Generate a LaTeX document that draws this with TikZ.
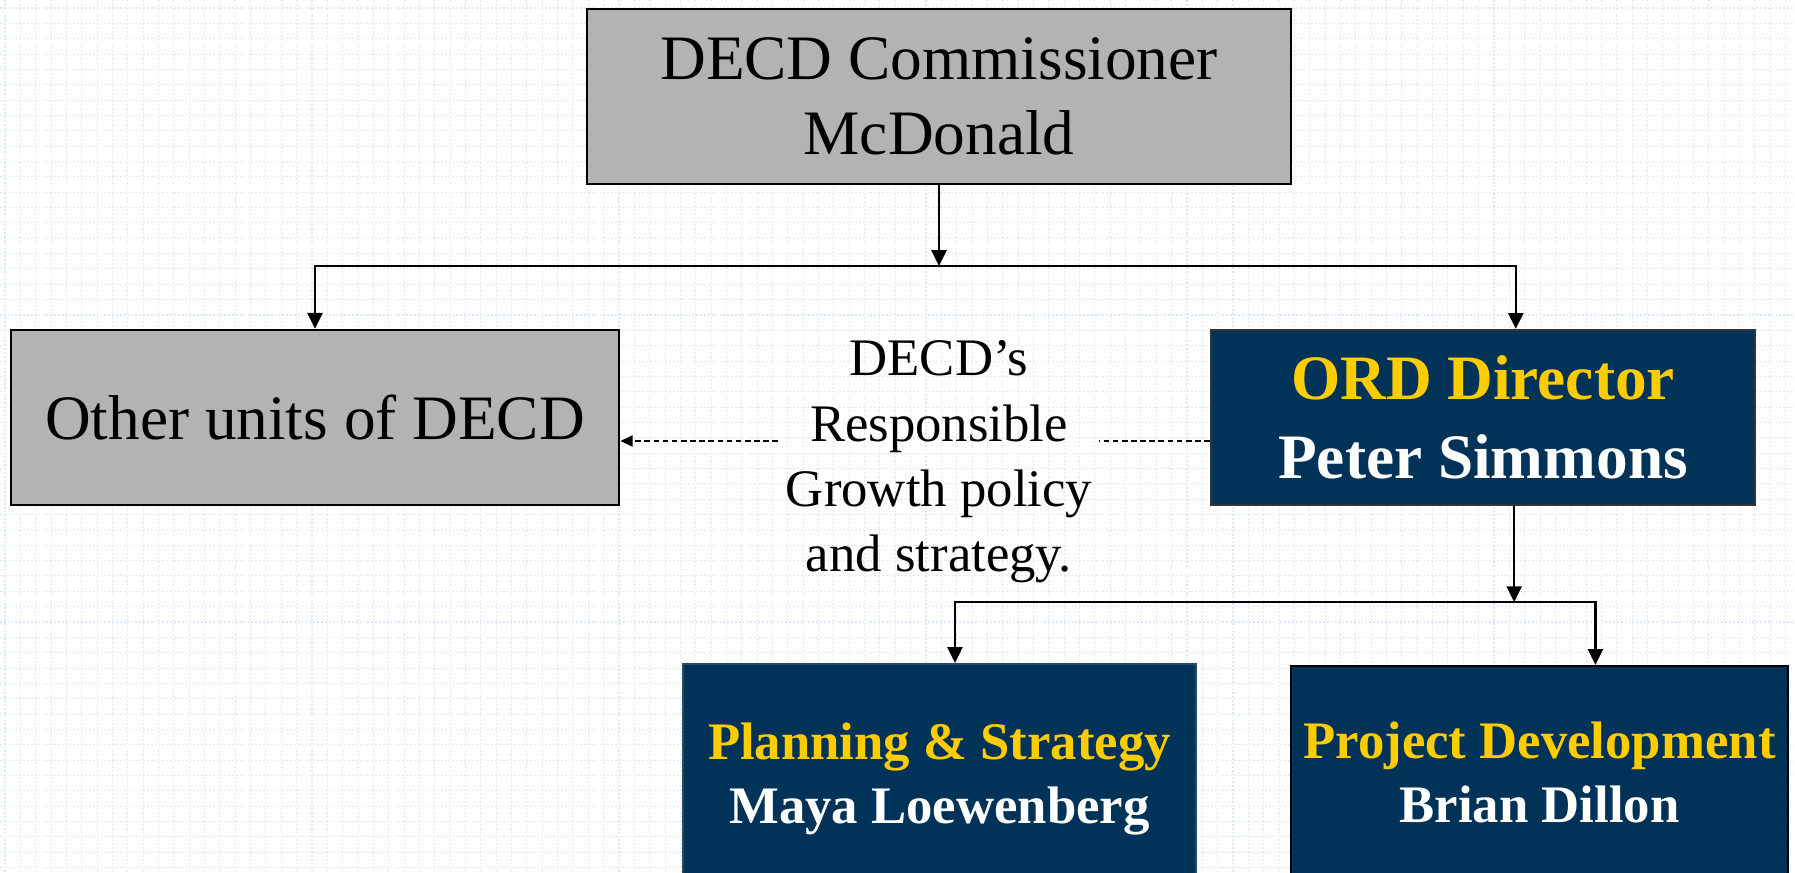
\documentclass[tikz,border=0pt]{standalone}
\usepackage{fontspec}
\setmainfont{Liberation Serif}
\usetikzlibrary{arrows.meta,calc}
\definecolor{boxgray}{RGB}{179,179,179}
\definecolor{navy}{RGB}{0,51,87}
\definecolor{gold}{RGB}{255,204,0}
\definecolor{gridblue}{RGB}{218,230,250}
\begin{document}
\begin{tikzpicture}[x=0.01cm,y=-0.01cm,
  grayunit/.style={draw=black, line width=0.7pt, fill=boxgray, align=center,
    inner sep=0pt, font=\fontsize{18}{21.5}\selectfont},
  navyunit/.style={draw=black!80, line width=0.6pt, fill=navy, align=center,
    inner sep=0pt, text=white, font=\bfseries\fontsize{18}{22.5}\selectfont},
  subunit/.style={navyunit, font=\bfseries\fontsize{15}{18.2}\selectfont},
  note/.style={align=center, inner sep=0pt, font=\fontsize{15}{18.6}\selectfont},
  arr/.style={-{Triangle[length=4.5pt,width=4.3pt]}, line width=0.6pt},
  dashline/.style={line width=0.5pt, dash pattern=on 1.6pt off 1pt},
  dasharr/.style={dashline, -{Triangle[length=3.5pt,width=3.2pt]}},
  gridline/.style={gridblue, line width=0.3pt, dash pattern=on 0.5pt off 0.6pt}]

\useasboundingbox (0,0) rectangle (1795,872);
\fill[white] (0,0) rectangle (1795,872);
\clip (0,0) rectangle (1795,872);

% background grid
\foreach \i in {0,...,117} {
  \draw[gridline] ({5+\i*15.35},0) -- ({5+\i*15.35},872);
}
\foreach \j in {0,...,57} {
  \draw[gridline] (0,{8+\j*15.35}) -- (1795,{8+\j*15.35});
}

% units
\node[grayunit, minimum width=7.04cm, minimum height=1.75cm] (comm) at (939,96.5)
  {DECD Commissioner\\McDonald};
\node[grayunit, minimum width=6.08cm, minimum height=1.75cm] (other) at (315,417.5)
  {Other units of DECD};
\node[navyunit, minimum width=5.44cm, minimum height=1.75cm] (ord) at (1483,417.5)
  {\textcolor{gold}{ORD Director}\\Peter Simmons};
\node[subunit, draw=navy!70!gray, minimum width=5.13cm, minimum height=2.30cm] (plan) at (939.5,779)
  {\textcolor{gold}{Planning \& Strategy}\\Maya Loewenberg};
\node[subunit, draw=black, minimum width=4.97cm, minimum height=2.12cm] (proj) at (1539.5,772)
  {\textcolor{gold}{Project Development}\\Brian Dillon};

\node[note] (policy) at (939,462)
  {DECD’s\\Responsible\\Growth policy\\and strategy.};

% reporting lines
\coordinate (bus1) at (939,266);
\coordinate (ordin) at ($(ord.north west)!0.56!(ord.north east)$);
\coordinate (ordout) at ($(ord.south west)!0.557!(ord.south east)$);
\coordinate (bus2) at ($(ordout)+(0,96)$);
\coordinate (planin) at ($(plan.north west)!0.53!(plan.north east)$);
\coordinate (projin) at ($(proj.north west)!0.612!(proj.north east)$);

\draw[arr] (comm.south) -- (bus1);
\draw[arr] (bus1) -| (other.north);
\draw[arr] (bus1) -| (ordin);

\draw[arr] (ordout) -- (bus2);
\draw[arr] (bus2) -| (planin);
\draw[arr] (bus2) -| (projin);

% policy link, broken where its label stands
\coordinate (gapL) at (778,441);
\coordinate (gapR) at (1099,441);
\draw[dashline] (gapR -| ord.west) -- (gapR);
\draw[dasharr] (gapL) -- (gapL -| other.east);
\end{tikzpicture}
\end{document}
